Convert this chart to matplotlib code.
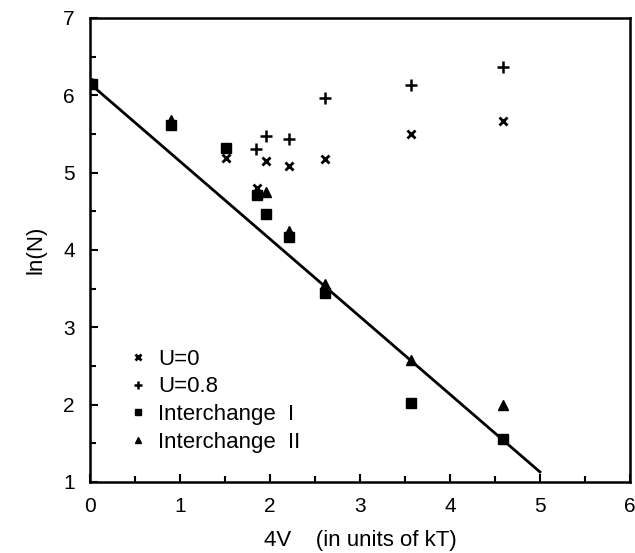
import matplotlib.pyplot as plt
from matplotlib.ticker import MultipleLocator

plt.rcParams["font.family"] = ["Liberation Sans", "DejaVu Sans"]

# U=0 (x markers)
u0_x = [1.51, 1.86, 1.96, 2.21, 2.61, 3.57, 4.59]
u0_y = [5.19, 4.80, 5.15, 5.08, 5.17, 5.50, 5.67]
# U=0.8 (+ markers)
u8_x = [1.85, 1.96, 2.21, 2.61, 3.57, 4.59]
u8_y = [5.31, 5.47, 5.43, 5.97, 6.13, 6.36]
# Interchange I (squares)
ic1_x = [0.02, 0.90, 1.51, 1.86, 1.96, 2.21, 2.61, 3.57, 4.59]
ic1_y = [6.14, 5.62, 5.32, 4.71, 4.46, 4.17, 3.44, 2.02, 1.55]
# Interchange II (triangles)
ic2_x = [0.02, 0.90, 1.96, 2.21, 2.61, 3.57, 4.59]
ic2_y = [6.16, 5.68, 4.75, 4.24, 3.56, 2.58, 2.00]
# fitted line
fit_x = [0.0, 5.0]
fit_y = [6.15, 1.13]


def main():
    fig = plt.figure(figsize=(6.35, 5.53), dpi=100)
    ax = fig.add_axes([0.1417, 0.1284, 0.8503, 0.8391])

    ax.plot(fit_x, fit_y, color="black", lw=2.0, zorder=2)
    ax.plot(u0_x, u0_y, "x", color="black", ms=6, mew=2.0, label="U=0", zorder=3)
    ax.plot(u8_x, u8_y, "+", color="black", ms=8, mew=1.8, label="U=0.8", zorder=3)
    ax.plot(ic1_x, ic1_y, "s", color="black", ms=6.5, label="Interchange  I", zorder=3)
    ax.plot(ic2_x, ic2_y, "^", color="black", ms=6.5, label="Interchange  II", zorder=3)

    ax.set_xlim(0, 6)
    ax.set_ylim(1, 7)
    ax.xaxis.set_major_locator(MultipleLocator(1))
    ax.xaxis.set_minor_locator(MultipleLocator(0.5))
    ax.yaxis.set_major_locator(MultipleLocator(1))
    ax.yaxis.set_minor_locator(MultipleLocator(0.5))
    ax.tick_params(which="both", direction="in", top=False, right=False,
                   labelsize=15, width=1.5)
    ax.tick_params(which="major", length=6, pad=11)
    ax.tick_params(which="minor", length=4)
    for s in ax.spines.values():
        s.set_linewidth(1.8)

    ax.set_ylabel("ln(N)", fontsize=16, labelpad=12)
    ax.set_xlabel("4V    (in units of kT)", fontsize=16, labelpad=10)

    ax.legend(loc="lower left", bbox_to_anchor=(0.032, 0.02), frameon=False,
              fontsize=16, handlelength=1.0, handletextpad=0.4,
              labelspacing=0.3, markerscale=0.75)

    fig.savefig("out.png", dpi=100)


if __name__ == "__main__":
    main()
